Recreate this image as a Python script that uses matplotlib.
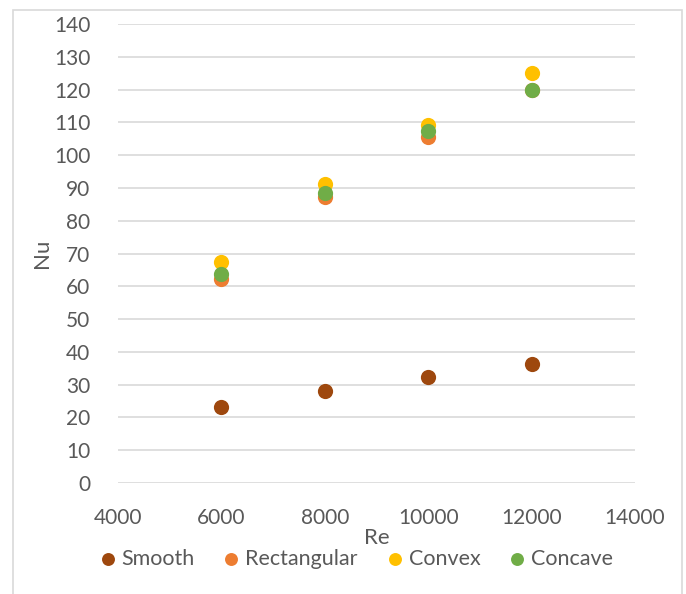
import matplotlib
matplotlib.use("Agg")
import matplotlib.pyplot as plt
from matplotlib.patches import Rectangle

plt.rcParams['font.family'] = ['Lato', 'DejaVu Sans']

re_vals = [6000, 8000, 10000, 12000]
smooth = [23.2, 28.0, 32.3, 36.2]
rectangular = [62.2, 87.1, 105.4, 119.8]
convex = [67.3, 91.3, 109.3, 125.0]
concave = [63.7, 88.6, 107.4, 120.0]
series_names = ["Smooth", "Rectangular", "Convex", "Concave"]
series_colors = ["#9E480E", "#ED7D31", "#FFC000", "#70AD47"]
y_ticks = list(range(0, 141, 10))
x_ticks = [4000, 6000, 8000, 10000, 12000, 14000]

fig = plt.figure(figsize=(6.86, 5.94), dpi=100)
fig.patches.append(Rectangle((13/686, -0.1), (682-13)/686, 1 - 10/594 + 0.1,
                             transform=fig.transFigure, fill=False,
                             edgecolor="#d9d9d9", linewidth=1.2))
ax = fig.add_axes([118/686, 1 - 483/594, (635-118)/686, (483-24)/594])

for name, vals, col in zip(series_names, [smooth, rectangular, convex, concave], series_colors):
    ax.scatter(re_vals, vals, s=120, color=col, label=name, zorder=3, linewidths=0)

ax.set_xlim(4000, 14000)
ax.set_ylim(0, 140)
ax.set_xticks(x_ticks)
ax.set_yticks(y_ticks)
ax.grid(axis='y', color="#d9d9d9", linewidth=1.2)
ax.set_axisbelow(True)
for s in ax.spines.values():
    s.set_visible(False)
ax.tick_params(length=0, labelsize=15, labelcolor="#595959")
ax.tick_params(axis='x', pad=18)
ax.tick_params(axis='y', pad=20)
ax.set_xlabel("Re", fontsize=16, color="#595959", labelpad=0)
ax.set_ylabel("Nu", fontsize=16, color="#595959", labelpad=1)

leg = fig.legend(loc='center', bbox_to_anchor=(0.515, 1 - 559/594), ncol=4, frameon=False,
                 fontsize=15.5, handletextpad=0.0, columnspacing=1.05, markerscale=0.85,
                 scatterpoints=1, handlelength=1.3)
for t in leg.get_texts():
    t.set_color("#595959")

fig.savefig("out.png", dpi=100)
